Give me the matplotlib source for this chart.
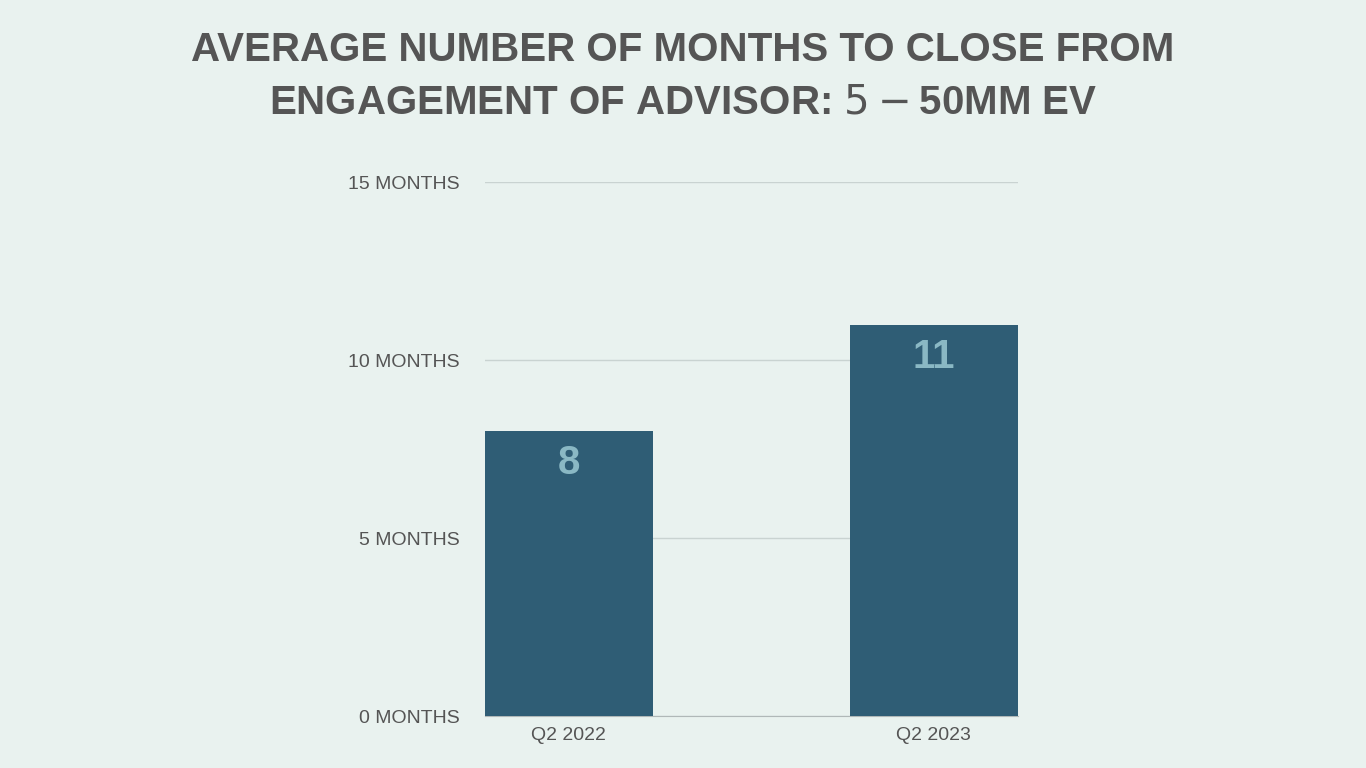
import matplotlib
matplotlib.use("Agg")
import matplotlib.pyplot as plt

categories = ["Q2 2022", "Q2 2023"]
values = [8, 11]
yticks = [0, 5, 10, 15]
ytick_labels = ["0 MONTHS", "5 MONTHS", "10 MONTHS", "15 MONTHS"]
title = "AVERAGE NUMBER OF MONTHS TO CLOSE FROM\nENGAGEMENT OF ADVISOR: $5-$50MM EV"

bg = "#e9f2ef"
plt.rcParams["font.family"] = "Liberation Sans"
fig = plt.figure(figsize=(13.66, 7.68), dpi=100, facecolor=bg)
ax = fig.add_axes([0.355, 0.0677, 0.390, 0.695], facecolor=bg)
w = 0.46
x = list(range(len(categories)))
ax.bar(x, values, width=w, color="#2f5d75", zorder=3)
for xi, v in zip(x, values):
    ax.annotate(str(v), (xi, v), xytext=(0, -32), textcoords="offset points" if False else "offset pixels",
                ha="center", va="center", fontsize=29, fontweight="bold", color="#8ab8c4", zorder=4)
ax.set_xlim(-w / 2, 1 + w / 2)
ax.set_ylim(0, 15)
ax.set_yticks(yticks)
ax.set_yticklabels(ytick_labels, fontsize=14, color="#555555")
ax.set_xticks(x)
ax.set_xticklabels(categories, fontsize=14, color="#555555")
ax.tick_params(length=0, pad=18, axis="y")
ax.tick_params(length=0, pad=8, axis="x")
ax.grid(axis="y", color="#c9d3d1", linewidth=1, zorder=0)
for s in ["top", "right", "left"]:
    ax.spines[s].set_visible(False)
ax.spines["bottom"].set_color("#b0b8b8")
fig.text(0.5, 0.96, title, ha="center", va="top", fontsize=29, fontweight="bold",
         color="#555555", linespacing=1.5)
fig.savefig("out.png", dpi=100, facecolor=bg)
